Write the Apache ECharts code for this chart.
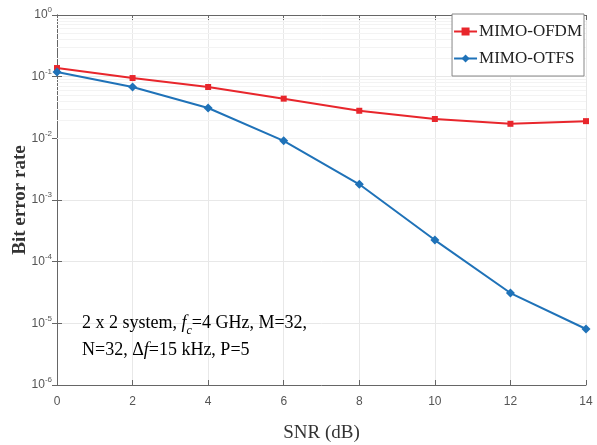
<!DOCTYPE html>
<html><head><meta charset="utf-8">
<script src="https://cdn.jsdelivr.net/npm/echarts@6/dist/echarts.min.js"></script>
<style>html,body{margin:0;padding:0;background:#fff}#c{width:597px;height:445px}</style>
</head><body><div id="c"></div>
<script>
const snr = [0, 2, 4, 6, 8, 10, 12, 14];
const berOFDM = [0.138, 0.095, 0.068, 0.044, 0.028, 0.0206, 0.0172, 0.019];
const berOTFS = [0.119, 0.068, 0.031, 0.0091, 0.0018, 0.000224, 0.000031, 0.0000081];
const xTicks = [0, 2, 4, 6, 8, 10, 12, 14];
const decades = [-6, -5, -4, -3, -2, -1, 0];

const minorLines = [];
decades.slice(0, -1).forEach(d => { for (let k = 2; k <= 9; k++) minorLines.push({ yAxis: k * Math.pow(10, d) }); });

const chart = echarts.init(document.getElementById('c'));
const serif = 'Liberation Serif';
const sans = 'Liberation Sans';
chart.setOption({
  animation: false,
  backgroundColor: '#fff',
  grid: { left: 57, right: 11, top: 15, bottom: 60, outerBoundsMode: 'none', containLabel: false },
  xAxis: [{
    type: 'value', min: 0, max: 14, interval: 2,
    name: 'SNR (dB)', nameLocation: 'middle', nameGap: 39, nameMoveOverlap: false,
    nameTextStyle: { fontFamily: serif, fontSize: 19, color: '#333' },
    axisLine: { lineStyle: { color: '#666', width: 1 } },
    axisTick: { inside: true, length: 5, lineStyle: { color: '#666' } },
    axisLabel: { fontFamily: sans, fontSize: 12, color: '#555', margin: 11 },
    splitLine: { show: true, lineStyle: { color: '#e8e8e8', width: 1 } }
  }, {
    type: 'value', min: 0, max: 14, interval: 2, position: 'top',
    axisLine: { show: true, lineStyle: { color: '#666', width: 1 } },
    axisTick: { inside: true, length: 5, lineStyle: { color: '#666' } },
    axisLabel: { show: false }, splitLine: { show: false }
  }],
  yAxis: [{
    type: 'log', logBase: 10, min: 1e-6, max: 1,
    name: 'Bit error rate', nameLocation: 'middle', nameGap: 27, nameMoveOverlap: false,
    nameTextStyle: { fontFamily: serif, fontSize: 19, fontWeight: 'bold', color: '#333' },
    axisLine: { show: true, lineStyle: { color: '#666', width: 1 } },
    axisTick: { inside: true, length: 5, lineStyle: { color: '#666' } },
    axisLabel: {
      margin: 5,
      formatter: v => '{b|10}{s|' + Math.round(Math.log10(v)) + '}',
      rich: {
        b: { fontFamily: sans, fontSize: 12, color: '#555' },
        s: { fontFamily: sans, fontSize: 8, color: '#555', verticalAlign: 'top', padding: [0, 0, 10, 0] }
      }
    },
    splitLine: { show: true, lineStyle: { color: '#e8e8e8', width: 1 } }
  }, {
    type: 'log', logBase: 10, min: 1e-6, max: 1, position: 'right',
    axisLine: { show: true, lineStyle: { color: '#666', width: 1 } },
    axisTick: { inside: true, length: 5, lineStyle: { color: '#666' } },
    axisLabel: { show: false }, splitLine: { show: false }
  }],
  legend: {
    right: 13, top: 14, orient: 'vertical',
    backgroundColor: '#fff', borderColor: '#888', borderWidth: 1,
    padding: [9, 2, 9, 1], itemGap: 10, itemWidth: 23, itemHeight: 10,
    textStyle: { fontFamily: serif, fontSize: 17, color: '#222', padding: [0, 0, 0, -3] },
    data: ['MIMO-OFDM', 'MIMO-OTFS']
  },
  series: [{
    name: 'MIMO-OFDM', type: 'line',
    data: snr.map((x, i) => [x, berOFDM[i]]),
    symbol: 'rect', symbolSize: 6,
    lineStyle: { color: '#e8262c', width: 2 },
    itemStyle: { color: '#e8262c' }, z: 3,
    markLine: {
      silent: true, symbol: 'none', label: { show: false },
      lineStyle: { color: '#f3f3f3', width: 1, type: 'solid' },
      data: minorLines, z: 1
    }
  }, {
    name: 'MIMO-OTFS', type: 'line',
    data: snr.map((x, i) => [x, berOTFS[i]]),
    symbol: 'diamond', symbolSize: 9,
    lineStyle: { color: '#1f72b8', width: 2 },
    itemStyle: { color: '#1f72b8' }, z: 3
  }],
  graphic: [{
    type: 'text', left: 82, top: 314, z: 10,
    style: {
      text: '{t|2 x 2 system, }{i|f}{sub|c}{t|=4 GHz, M=32,}\n{t|N=32, Δ}{i|f}{t|=15 kHz, P=5}',
      rich: {
        t: { fontFamily: serif, fontSize: 18, color: '#222', lineHeight: 27 },
        i: { fontFamily: serif, fontSize: 18, fontStyle: 'italic', color: '#222', lineHeight: 27 },
        sub: { fontFamily: serif, fontSize: 12, fontStyle: 'italic', color: '#222', lineHeight: 27, verticalAlign: 'bottom', padding: [6, 0, 0, 0] }
      }
    }
  }]
});
</script></body></html>
